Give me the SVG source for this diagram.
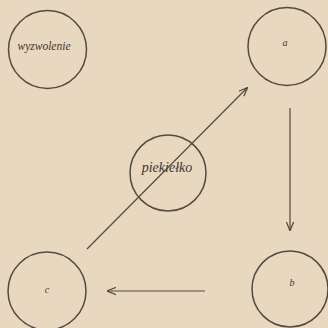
<svg xmlns="http://www.w3.org/2000/svg" width="328" height="328" viewBox="0 0 328 328">
<defs>
<style>
.node circle{fill:none;stroke:#554a42;stroke-width:1.5}
.lbl{font-family:"Liberation Serif",serif;font-style:italic;fill:#3e3630;text-anchor:middle}
.conn line{stroke:#554a42;stroke-width:1.2;fill:none}
</style>
<marker id="ah" viewBox="0 0 10 10" refX="9" refY="5" markerWidth="9" markerHeight="9" markerUnits="userSpaceOnUse" orient="auto">
<path d="M0,1 L10,5 L0,9" fill="none" stroke="#554a42" stroke-width="1.4"/>
</marker>
</defs>
<rect width="328" height="328" fill="#e7d8bf"/>
<g id="wyzwolenie" class="node"><circle cx="47.5" cy="49.5" r="39"/><text class="lbl" x="44" y="50" font-size="11.5">wyzwolenie</text></g>
<g id="a" class="node"><circle cx="287" cy="46.5" r="39"/><text class="lbl" x="285" y="46" font-size="10">a</text></g>
<g id="piekielko" class="node"><circle cx="168" cy="173" r="38"/><text class="lbl" x="167" y="172" font-size="14">piekiełko</text></g>
<g id="c" class="node"><circle cx="47" cy="291" r="39"/><text class="lbl" x="47" y="293" font-size="10">c</text></g>
<g id="b" class="node"><circle cx="290" cy="289" r="38"/><text class="lbl" x="292" y="286" font-size="10">b</text></g>
<g id="connectors" class="conn">
<line x1="290" y1="108" x2="290" y2="230" marker-end="url(#ah)"/>
<line x1="205" y1="291" x2="108" y2="291" marker-end="url(#ah)"/>
<line x1="87" y1="249" x2="247" y2="88" marker-end="url(#ah)"/>
</g>
</svg>
